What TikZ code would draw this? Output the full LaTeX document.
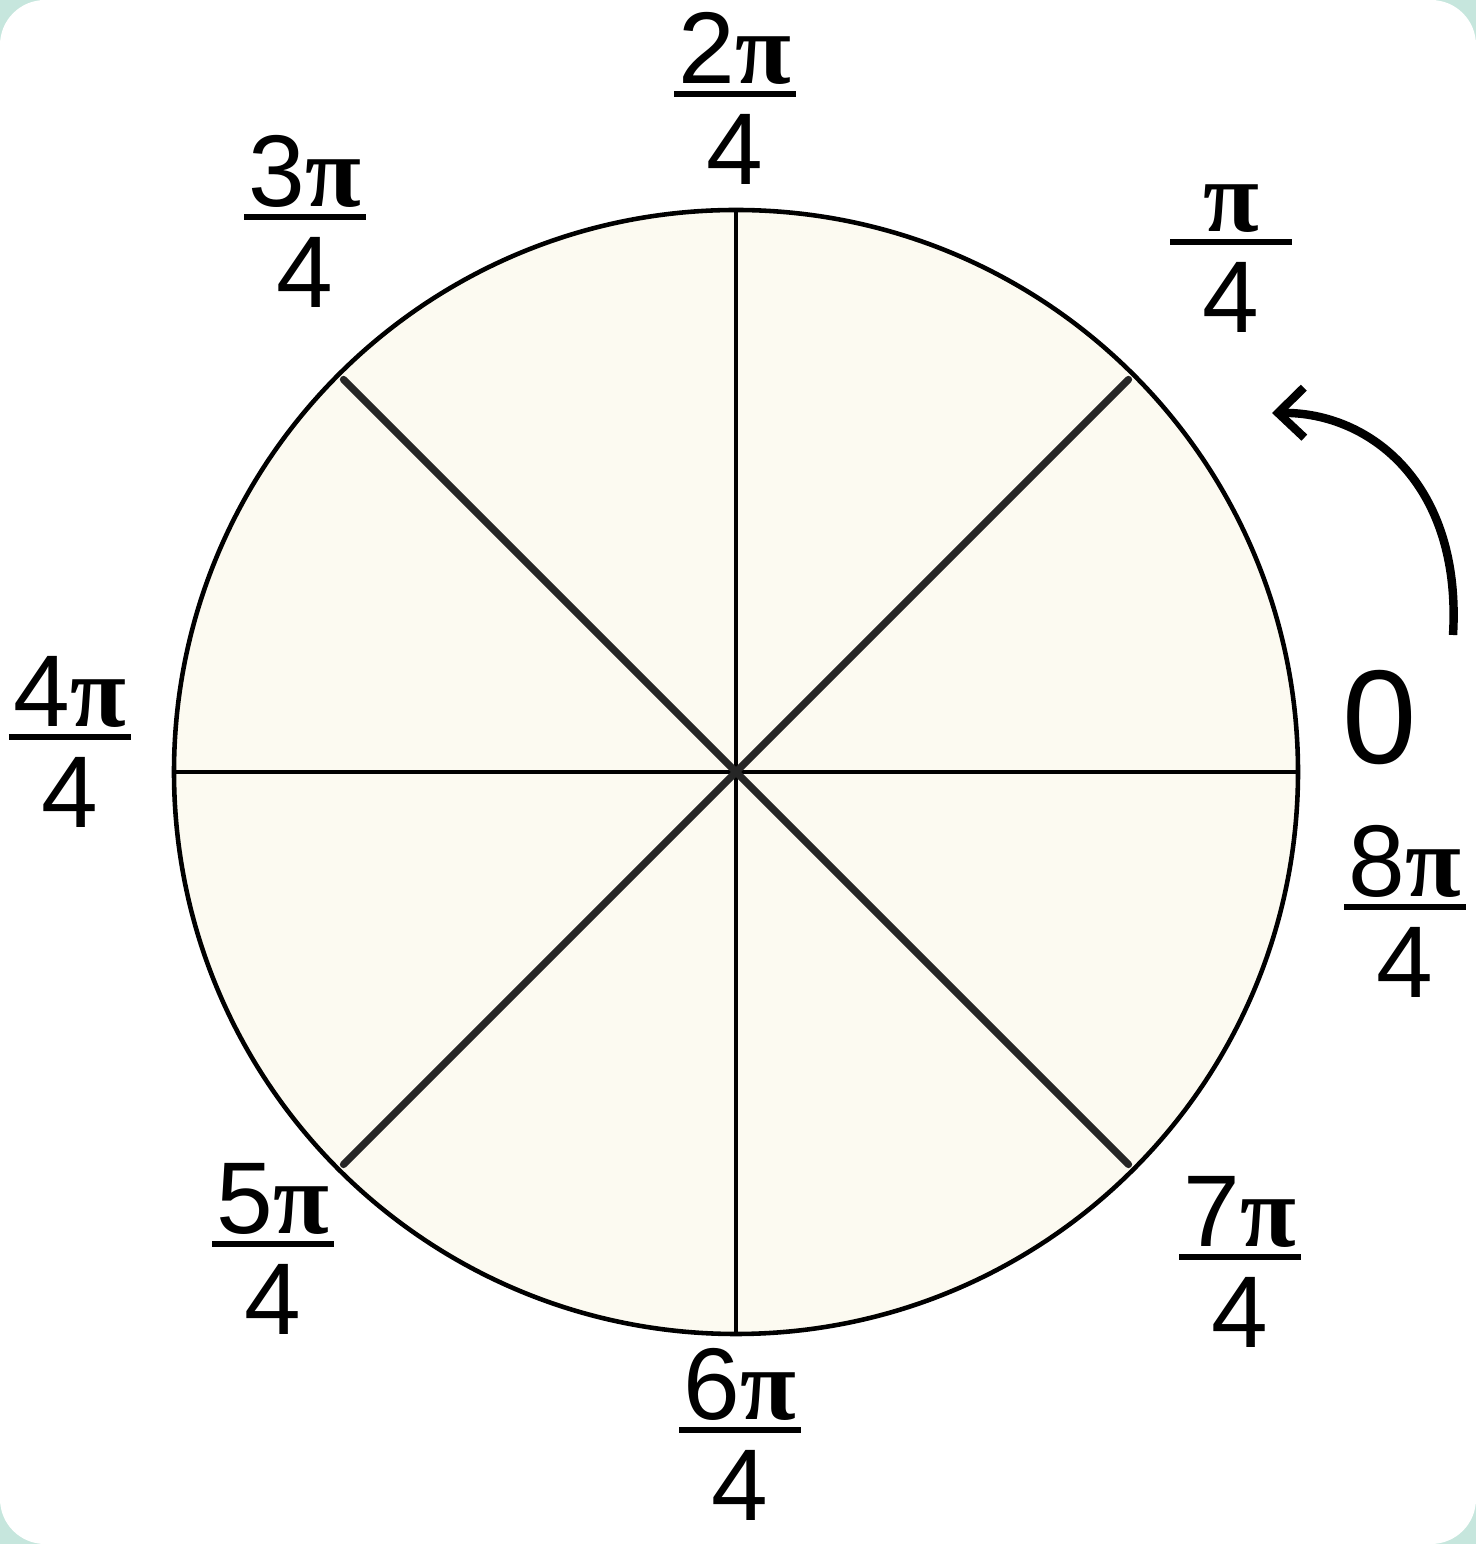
\documentclass[tikz,border=0pt]{standalone}
\usepackage{fontspec}
\setmainfont{Liberation Sans}
\newfontfamily\pifont{Liberation Serif}
\usetikzlibrary{arrows.meta}
\definecolor{mint}{HTML}{C6E6DD}
\definecolor{cream}{HTML}{FCFAF1}
\newcommand{\pii}{{\pifont\bfseries π}}
\newcommand{\ang}[1]{\begin{tabular}{@{}c@{}}\makebox[1.22cm]{#1}\\[-7pt]\hline\rule{0pt}{25pt}4\end{tabular}}
\setlength{\arrayrulewidth}{1.5pt}
\tikzset{lab/.style={font=\fontsize{29}{31}\selectfont, inner sep=0pt}}

\begin{document}
\begin{tikzpicture}
  \useasboundingbox (0,0) rectangle (14.76,15.44);
  % background
  \fill[mint] (0,0) rectangle (14.76,15.44);
  \fill[white, rounded corners=0.45cm] (0,0) rectangle (14.76,15.44);
  % circle and spokes
  \coordinate (c) at (7.36,7.72);
  \fill[cream] (c) circle (5.62);
  \foreach \a in {0,90,180,270} {
    \draw[line width=1.1pt] (c) -- ++(\a:5.62);
  }
  \foreach \a in {45,135,225,315} {
    \draw[line width=2.1pt, black!85, line cap=round] (c) -- ++(\a:5.55);
  }
  \draw[line width=1.3pt] (c) circle (5.62);
  % labels
  \node[lab] (l0) at (13.80,8.26) {\fontsize{38}{42}\selectfont 0};
  \node[lab] (l1) at (12.31,12.84) {\ang{\pii}};
  \node[lab] (l2) at (7.35,14.32) {\ang{2\pii}};
  \node[lab] (l3) at (3.05,13.09) {\ang{3\pii}};
  \node[lab] (l4) at (0.70,7.89) {\ang{4\pii}};
  \node[lab] (l5) at (2.73,2.82) {\ang{5\pii}};
  \node[lab] (l6) at (7.40,0.96) {\ang{6\pii}};
  \node[lab] (l7) at (12.40,2.69) {\ang{7\pii}};
  \node[lab] (l8) at (14.05,6.19) {\ang{8\pii}};
  % arrow
  \coordinate (s) at (14.53,9.09);
  \coordinate (e) at (12.72,11.31);
  \draw[line width=2.4pt, -{Straight Barb[length=2.6mm,width=5mm]}] (s) .. controls (14.62,10.6) and (13.7,11.32) .. (e);
\end{tikzpicture}
\end{document}
